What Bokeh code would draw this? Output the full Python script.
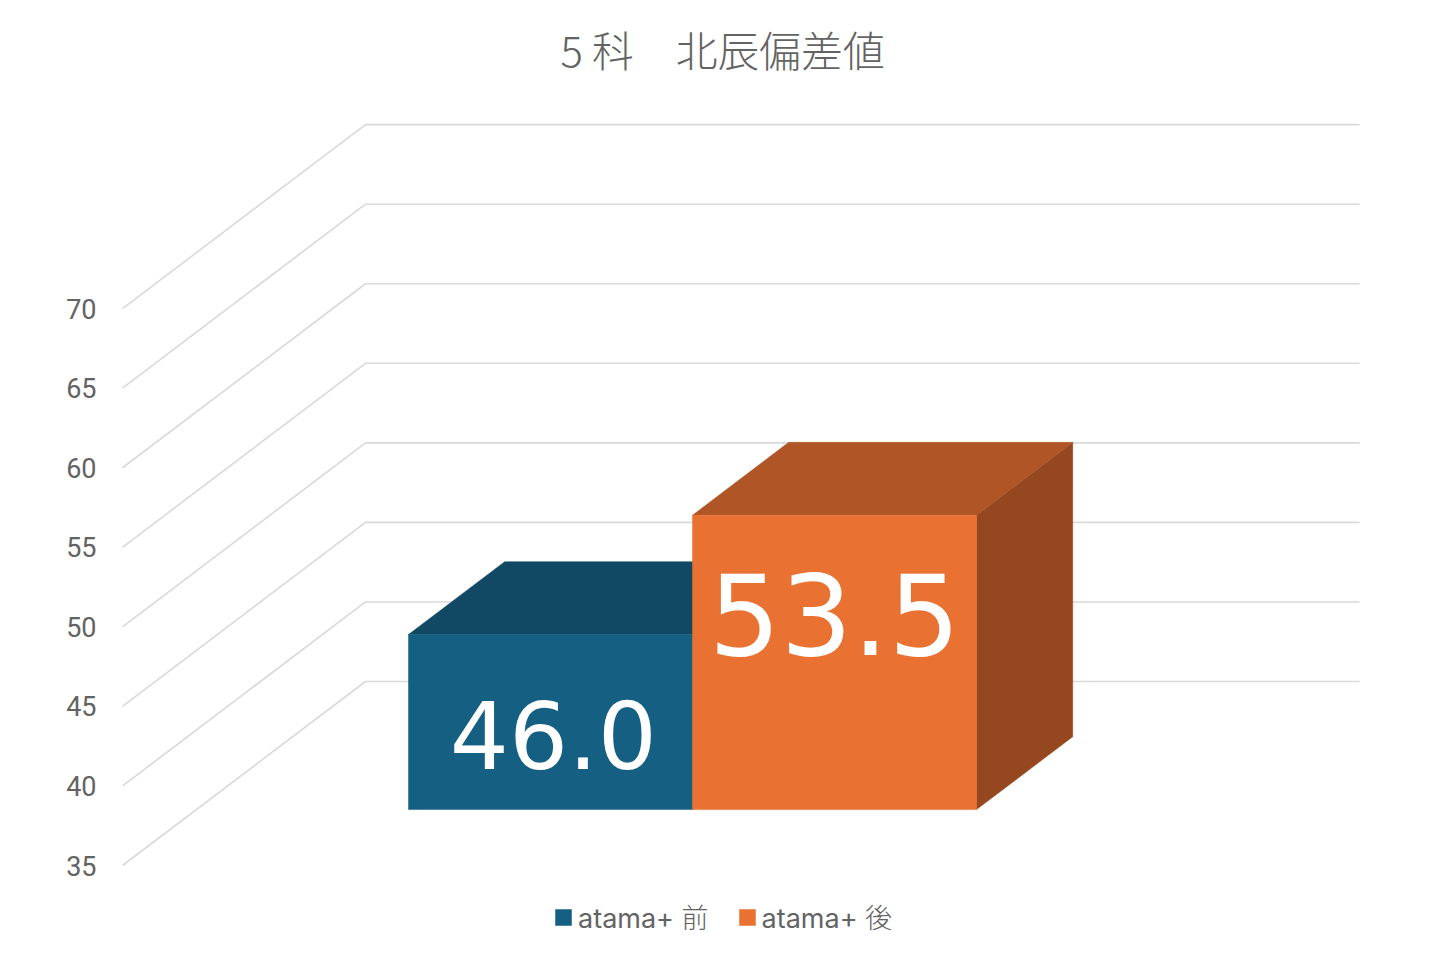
from bokeh.plotting import figure
from bokeh.models import Range1d, LinearAxis, FixedTicker, Legend, LegendItem, Title
from bokeh.core.properties import value
from bokeh.embed import file_html
from bokeh.resources import INLINE

TITLE = "5 科　北辰偏差値"
SERIES = ["atama+ 前", "atama+ 後"]
VALUES = [46.0, 53.5]
LABELS = ["46.0", "53.5"]
TICKS = [35, 40, 45, 50, 55, 60, 65, 70]
FONT = "Inter, 'Noto Sans CJK JP Light', 'Noto Sans CJK JP'"
TITLE_FONT = "'Noto Sans CJK JP Light', 'Noto Sans CJK JP'"
LABEL_FONT = "DejaVu Sans"

BLUE = ["#156082", "#114964", "#0e3f56"]
ORANGE = ["#E97132", "#B05526", "#95481F"]
GRID = "#D9D9D9"
TEXT = "#636363"

W, H = 1424, 944
FL, FT, FR, FB = 100, 82, 1424, 944  # frame in image px
PX_PER_UNIT = 15.91
Y35 = 865
BAR_W = 284
X0 = 408

# depth: 1 = back wall, 0 = front edge of the floor
def px(x, d):
    return x + 243 * d / BAR_W

def vy(v, d):
    return v + 184 * d / PX_PER_UNIT

x_lo = (FL - X0) / BAR_W
x_hi = (FR - X0) / BAR_W
y_lo = 35 - (FB - Y35) / PX_PER_UNIT
y_hi = 35 + (Y35 - FT) / PX_PER_UNIT

p = figure(width=W, height=H, output_backend="svg", toolbar_location=None,
           x_range=Range1d(x_lo, x_hi), y_range=Range1d(y_lo, y_hi),
           x_axis_type=None, y_axis_type=None, background_fill_color="white",
           border_fill_color="white", min_border_left=FL, min_border_top=FT,
           min_border_right=W - FR, min_border_bottom=H - FB)
p.outline_line_color = None
p.grid.visible = False

ax = LinearAxis(ticker=FixedTicker(ticks=TICKS))
ax.axis_line_color = None
ax.major_tick_line_color = None
ax.minor_tick_line_color = None
ax.major_tick_out = 0
ax.major_tick_in = 0
ax.major_label_text_font = "Roboto"
ax.major_label_text_font_size = "27px"
ax.major_label_text_color = TEXT
ax.major_label_standoff = 4
p.add_layout(ax, "left")

p.add_layout(Title(text=TITLE, text_font=TITLE_FONT, text_font_size="41.8px", text_font_style="normal",
                   text_color=TEXT, align="left", offset=460, standoff=8), "above")

# walls
xl = -286 / BAR_W
xr = (1359 - X0) / BAR_W
xs, ys = [], []
for t in TICKS:
    xs.append([xl, px(xl, 1), px(xr - 243 / BAR_W, 1)])
    ys.append([t, vy(t, 1), vy(t, 1)])
p.multi_line(xs, ys, line_color=GRID, line_width=1.6)

# bars: front plane at depth d0, rear at d1
d0, d1 = 0.304, 0.70
lift = vy(0, d0)
depth_x = px(0, d1) - px(0, d0)
depth_y = vy(0, d1) - vy(0, d0)
base = 35
renderers = []
for i, (val, cols) in enumerate(zip(VALUES, [BLUE, ORANGE])):
    l, r = i, i + 1
    y0, y1 = base + lift, val + lift
    # side
    p.patch([r, r + depth_x, r + depth_x, r],
            [y0, y0 + depth_y, y1 + depth_y, y1],
            fill_color=cols[2], line_color=cols[2], line_width=0.5)
    # top
    p.patch([l, l + depth_x, r + depth_x, r],
            [y1, y1 + depth_y, y1 + depth_y, y1],
            fill_color=cols[1], line_color=cols[1], line_width=0.5)
    # front
    rr = p.quad(left=l, right=r, bottom=y0, top=y1, fill_color=cols[0], line_color=cols[0], line_width=0.5)
    renderers.append(rr)

# data labels
p.text([0.51], [VALUES[0] + lift - 6.33], text=[LABELS[0]], text_font=value(LABEL_FONT), text_font_size="93px",
       text_color="white", text_align="center", text_baseline="middle")
p.text([1.5], [VALUES[1] + lift - 6.2], text=[LABELS[1]], text_font=value(LABEL_FONT), text_font_size="113px",
       text_color="white", text_align="center", text_baseline="middle")

legend = Legend(items=[LegendItem(label=s, renderers=[r]) for s, r in zip(SERIES, renderers)],
                orientation="horizontal", location=(453, 8), background_fill_alpha=0,
                border_line_color=None, label_text_font=FONT, label_text_font_size="27px",
                label_text_color=TEXT, glyph_width=20, glyph_height=20, spacing=28,
                label_standoff=5, margin=0, padding=0)
p.add_layout(legend, "center")

open("out.html", "w").write(file_html(p, INLINE))
